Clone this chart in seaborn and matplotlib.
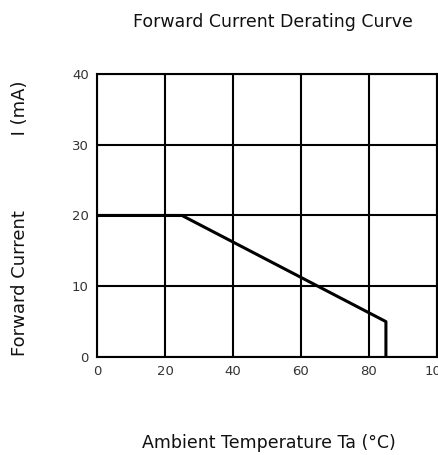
import numpy as np
import pandas as pd
import matplotlib
matplotlib.use('Agg')
import matplotlib.pyplot as plt
import seaborn as sns

# derating curve
temp_c = [0, 25, 85, 85]
current_ma = [20, 20, 5, 0]
x_ticks = [0, 20, 40, 60, 80, 100]
y_ticks = [0, 10, 20, 30, 40]

df = pd.DataFrame({'Ta': temp_c, 'IF': current_ma})

sns.set_style("white")
plt.rcParams['font.family'] = ['DejaVu Sans']

fig = plt.figure(figsize=(4.38, 4.55), dpi=100)
ax = fig.add_axes([0.2215, 0.2154, 0.776, 0.622])

sns.lineplot(data=df, x='Ta', y='IF', sort=False, estimator=None,
             color='black', linewidth=2.2, ax=ax)

ax.set_xlim(0, 100)
ax.set_ylim(0, 40)
ax.set_xticks(x_ticks)
ax.set_yticks(y_ticks)
ax.grid(True, color='black', linewidth=1.5)
for s in ax.spines.values():
    s.set_color('black')
    s.set_linewidth(1.5)
ax.tick_params(length=0, labelsize=9.5, labelcolor='#333333')
ax.tick_params(axis='x', pad=6)
ax.tick_params(axis='y', pad=6)

ax.set_xlabel('Ambient Temperature Ta (°C)', fontsize=12.5, color='#111111')
ax.xaxis.set_label_coords(0.505, -0.304)
ax.xaxis.label.set_va('center')
ax.set_ylabel('Forward Current             I (mA)', fontsize=13, color='#111111')
ax.yaxis.set_label_coords(-0.226, 0.49)
ax.yaxis.label.set_va('center')
fig.text(0.623, 0.952, 'Forward Current Derating Curve', fontsize=12.5,
         ha='center', va='center', color='#111111')

fig.savefig('out.png', dpi=100)
